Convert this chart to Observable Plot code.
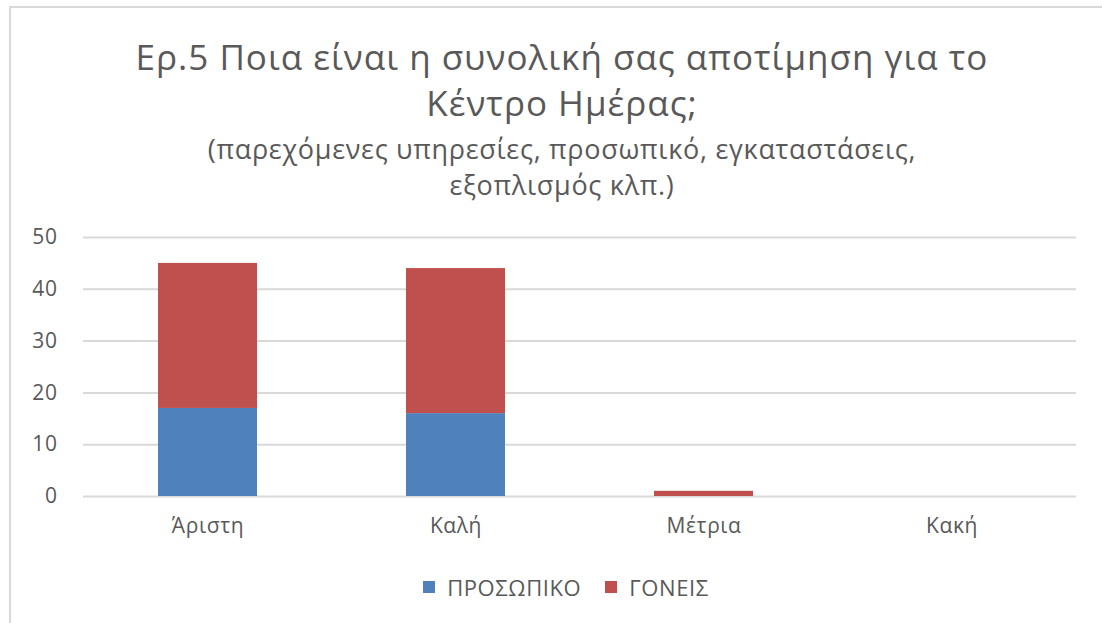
<!DOCTYPE html>
<html>
<head>
<meta charset="utf-8">
<script src="https://cdn.jsdelivr.net/npm/d3@7"></script>
<script src="https://cdn.jsdelivr.net/npm/@observablehq/plot@0.6"></script>
<style>
  html, body { margin: 0; padding: 0; background: #fff; }
  body { width: 1102px; height: 623px; position: relative; overflow: hidden; font-family: "Open Sans", "Noto Sans", sans-serif; color: #595959; }
  #frame { position: absolute; left: 9px; top: 6px; width: 1100px; height: 630px; border-top: 2px solid #d9d9d9; border-left: 2px solid #d9d9d9; box-sizing: border-box; }
  .t { position: absolute; left: 0; width: 1124px; text-align: center; white-space: nowrap; }
  #title1 { top: 35px; font-size: 35px; line-height: 44px; letter-spacing: 1px; }
  #title2 { top: 81px; font-size: 35px; line-height: 44px; letter-spacing: 1px; }
  #sub1 { top: 132px; font-size: 27px; line-height: 34px; letter-spacing: 0.7px; }
  #sub2 { top: 168px; font-size: 27px; line-height: 34px; letter-spacing: 0.7px; }
  #chart { position: absolute; left: 0; top: 220px; }
  #chart svg text { letter-spacing: 0.6px; }
  #legend { position: absolute; top: 572px; left: 0; width: 1132px; display: flex; justify-content: center; gap: 24px; font-size: 22px; letter-spacing: 0.6px; line-height: 30px; }
  .item { display: flex; align-items: center; gap: 12px; }
  .sw { width: 12px; height: 12px; display: inline-block; }
</style>
</head>
<body>
<div id="frame"></div>
<div class="t" id="title1">Ερ.5 Ποια είναι η συνολική σας αποτίμηση για το</div>
<div class="t" id="title2">Κέντρο Ημέρας;</div>
<div class="t" id="sub1">(παρεχόμενες υπηρεσίες, προσωπικό, εγκαταστάσεις,</div>
<div class="t" id="sub2">εξοπλισμός κλπ.)</div>
<div id="chart"></div>
<div id="legend"></div>
<script>
const categories = ["Άριστη", "Καλή", "Μέτρια", "Κακή"];
const seriesNames = ["ΠΡΟΣΩΠΙΚΟ", "ΓΟΝΕΙΣ"];
const staff = [17, 16, 0, 0];
const parents = [28, 28, 1, 0];
const colors = ["#4f81bd", "#c0504d"];
const yTicks = [0, 10, 20, 30, 40, 50];

const data = [];
categories.forEach((c, i) => {
  data.push({category: c, series: seriesNames[0], value: staff[i]});
  data.push({category: c, series: seriesNames[1], value: parents[i]});
});

const plot = Plot.plot({
  width: 1102,
  height: 340,
  marginTop: 17,
  marginBottom: 64,
  marginLeft: 83,
  marginRight: 26,
  style: {fontFamily: "'Open Sans', 'Noto Sans', sans-serif", fontSize: "21px", color: "#595959", background: "transparent"},
  x: {domain: categories, paddingInner: 0.6, paddingOuter: 0.3, label: null},
  y: {domain: [0, 50], label: null},
  color: {domain: seriesNames, range: colors},
  marks: [
    Plot.gridY(yTicks, {stroke: "#d9d9d9", strokeOpacity: 1, strokeWidth: 2}),
    Plot.barY(data, Plot.stackY({x: "category", y: "value", fill: "series", order: seriesNames})),
    Plot.axisY({ticks: yTicks, tickSize: 0, tickPadding: 26, fontSize: 21}),
    Plot.axisX({tickSize: 0, tickPadding: 22, fontSize: 21})
  ]
});
document.getElementById("chart").appendChild(plot);

const legend = document.getElementById("legend");
seriesNames.forEach((s, i) => {
  const it = document.createElement("div");
  it.className = "item";
  const sw = document.createElement("span");
  sw.className = "sw";
  sw.style.background = colors[i];
  const tx = document.createElement("span");
  tx.textContent = s;
  it.appendChild(sw); it.appendChild(tx);
  legend.appendChild(it);
});
</script>
</body>
</html>
